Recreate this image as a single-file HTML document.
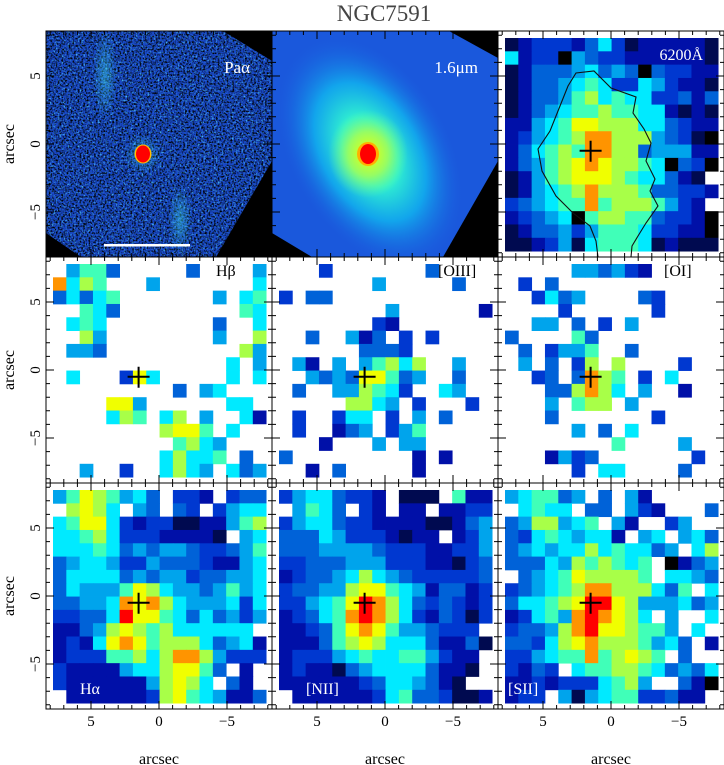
<!DOCTYPE html>
<html><head><meta charset="utf-8">
<style>
body{margin:0;background:#fff;width:724px;height:765px;overflow:hidden;font-family:"Liberation Serif",serif}
svg{display:block}
</style></head>
<body>
<svg id="fig" width="724" height="765" viewBox="0 0 724 765" xmlns="http://www.w3.org/2000/svg">
<defs>
<filter id="noiseK" x="0" y="0" width="100%" height="100%">
<feTurbulence type="fractalNoise" baseFrequency="0.55" numOctaves="2" seed="3"/>
<feColorMatrix type="matrix" values="0 0 0 0 0  0 0 0 0 0  0 0 0 0 0  3.2 0 0 0 -1.4"/>
</filter>
<filter id="noiseC" x="0" y="0" width="100%" height="100%">
<feTurbulence type="fractalNoise" baseFrequency="0.5" numOctaves="2" seed="11"/>
<feColorMatrix type="matrix" values="0 0 0 0 0.1  0 0 0 0 0.75  0 0 0 0 1  0 2.6 0 0 -1.4"/>
</filter>
<radialGradient id="nirG" cx="0.5" cy="0.5" r="0.5">
<stop offset="0" stop-color="#80ff80"/>
<stop offset="0.3" stop-color="#30f0d0"/>
<stop offset="0.6" stop-color="#10b8f0" stop-opacity="0.8"/>
<stop offset="1" stop-color="#1a5ce0" stop-opacity="0"/>
</radialGradient>
<radialGradient id="coreG" cx="0.5" cy="0.5" r="0.5">
<stop offset="0" stop-color="#f0ff00"/>
<stop offset="0.5" stop-color="#a8ff50" stop-opacity="0.8"/>
<stop offset="1" stop-color="#60ffa0" stop-opacity="0"/>
</radialGradient>
<radialGradient id="paG" cx="0.5" cy="0.5" r="0.5">
<stop offset="0" stop-color="#40e0f0" stop-opacity="0.45"/>
<stop offset="1" stop-color="#40e0f0" stop-opacity="0"/>
</radialGradient>
<clipPath id="clipPa"><polygon points="46,31 223,31 272,61 272,161 216,257 81,257 46,233"/></clipPath>
<clipPath id="clipNir"><polygon points="272,31 449,31 498,58 498,161 443,257 312,257 272,233"/></clipPath>
</defs>
<text x="384" y="21" text-anchor="middle" font-size="23" fill="#444">NGC7591</text>
<g id="panels"></g>
<g id="axes"></g>
</svg>
<script>
// colour index -> colour
const levels = "k0123456789A";
const palette = ["#000000","#000a50","#0010a8","#0038d0","#0062d8","#00a4ec","#00eaff","#40ffb8","#a8ff48","#f0ff00","#ff9400","#ff0000"];

// panel data: one string per row, '.' = blank
const cont6200 = [
"0122213520111110","5122k43221111110","0133345343k32211","0133456522542110",
"0133467565522313","0134566766551010","1145688777553211","124567997774320k",
"1356769977344411","134678987765k32k","014678887655310.","0145679777633221",
"234566967776421.","12345k677663221k","013342466652211k","0012405666501000"];
const hbeta = [
".4663.....3....4","9576...4.......5","35356.......4.56","..653.........65",
".565........3..5","..74........4..7",".443..........74",".............5.4",
".5...285.....5.5",".........3.45...","....884......55.","....576.57.4..51",
"........7886.5..",".........6754...","........57556.3.","..4..2..5754.534"];
const oiii = [
"...2.......3....",".......4.....3..","2.33............","........4......1",
".......21.......","..3..413.2.2....","......3332......",".41.4.46757..4..",
"..434388634..3..",".3..447652..54..",".....7754.2...2.",".2..255.2.4.3...",
".2..134.246.....","...1...4.44.....","3.........1.1...","..1.3.....1....."];
const oi = [
".....443421.....",".2.3............","..2534....32....","....2......2....",
"..44.3.2.4......","3....63.........",".3.2446..3......",".4.3.27.7....2..",
"..23.3976.2.5...","...337975.4..1..","...4.677.4......","...3.......2....",
".....4.3.5......","........6....4..","...1423.......2.",".....2.55....3.."];
const halpha = [
"46876453.221.233",".7875.43.32.2455","5688521220011467","5567522211110.45",
"5556534344322346","3455422433321145","3555534344233445","3544468754434645",
"3344598975444525","22335A8865353424","113478767555555.","1215898677753451",
"1222667579974222","2111145578863 1.".replace(" ","."),"211111147875 31.".replace(" ","."),".111111278654113"];
const nii = [
"24553221.000.611",".4653.21.11.1122","2455322111100134","333542221011.124",
"3334444322211224","2233344422211023","1233457543222223","2334478865413312",
"224568A975323212","123569A975213202","112368986443222.","1113678755531130",
"122245655664211.","121103455553110.","11111123554310..",".111111256332001"];
const sii = [
"45663 4.3.41.....".replace(" ","").slice(0,16),".5655.33.421...3","3477456.41..24..","325654551.45.453",
"3454557565534.57","33354767656.k134",".3456877776.5543","23456799777536.5",
"355678AA87444534","125649A9875.4..5","233479A887664.5.","33257897776453.1",
"224566967876 3..".replace(" ","."),"2132.56677653435","11212225674..31k","122.40456622311."];

const panelLeft = [46,272,498];
const panelTop = [31,257,483];
const PW = 226, CELL = 13.32, OFF = 7;
const pxPerArcsec = 13.6;
const crossRA = 1.5, crossDec = -0.5;   // cross position (arcsec)

const NS = "http://www.w3.org/2000/svg";
const gP = document.getElementById("panels");
const gA = document.getElementById("axes");
function mk(tag, attrs, parent){
  const e = document.createElementNS(NS, tag);
  for (const k in attrs) e.setAttribute(k, attrs[k]);
  parent.appendChild(e); return e;
}
function xs(col, a){ return panelLeft[col] + PW/2 - a*pxPerArcsec; }
function ys(row, d){ return panelTop[row] + PW/2 - d*pxPerArcsec; }

// ---------- image panels (Pa alpha, 1.6um) ----------
(function(){
  const bg1 = mk("rect",{x:46,y:31,width:226,height:226,fill:"#000"},gP);
  
  
  const pa = mk("g",{"clip-path":"url(#clipPa)"},gP);
  
  
  mk("rect",{x:46,y:31,width:226,height:226,fill:"#1848c8"},pa);
  mk("rect",{x:46,y:31,width:226,height:226,filter:"url(#noiseC)"},pa);
  mk("rect",{x:46,y:31,width:226,height:226,filter:"url(#noiseK)"},pa);
  mk("ellipse",{cx:105,cy:75,rx:12,ry:45,fill:"url(#paG)"},pa);
  mk("ellipse",{cx:180,cy:220,rx:12,ry:35,fill:"url(#paG)"},pa);
  mk("ellipse",{cx:143,cy:154,rx:18,ry:20,fill:"url(#paG)"},pa);
  mk("ellipse",{cx:143,cy:154,rx:8.5,ry:9.5,fill:"#ffc000"},pa);
  mk("ellipse",{cx:143,cy:154,rx:7,ry:8.5,fill:"#ff0000"},pa);
  const bar = mk("rect",{x:104,y:244,width:86,height:2.5,fill:"#fff"},gP);
  
  

  const bg2 = mk("rect",{x:272,y:31,width:226,height:226,fill:"#000"},gP);
  
  
  const nir = mk("g",{"clip-path":"url(#clipNir)"},gP);
  
  
  mk("rect",{x:272,y:31,width:226,height:226,fill:"#1a58dc"},nir);
  mk("ellipse",{cx:370,cy:152,rx:80,ry:125,fill:"url(#nirG)",transform:"rotate(-30 370 152)"},nir);
  mk("ellipse",{cx:368,cy:154,rx:40,ry:44,fill:"url(#coreG)"},nir);
  mk("ellipse",{cx:368,cy:154,rx:11,ry:12,fill:"#ffb000"},nir);
  mk("ellipse",{cx:368,cy:154,rx:8,ry:10,fill:"#ff0000"},nir);
})();

// ---------- IFU maps ----------
const maps = [
 {row:0,col:2,data:cont6200,name:"continuum-6200-map",label:"6200Å",lx:703,ly:60,lc:"#fff",anchor:"end"},
 {row:1,col:0,data:hbeta,name:"hbeta-map",label:"Hβ",lx:216,ly:276,lc:"#000",anchor:"start"},
 {row:1,col:1,data:oiii,name:"oiii-map",label:"[OIII]",lx:438,ly:276,lc:"#000",anchor:"start"},
 {row:1,col:2,data:oi,name:"oi-map",label:"[OI]",lx:664,ly:276,lc:"#000",anchor:"start"},
 {row:2,col:0,data:halpha,name:"halpha-map",label:"Hα",lx:80,ly:694,lc:"#fff",anchor:"start"},
 {row:2,col:1,data:nii,name:"nii-map",label:"[NII]",lx:306,ly:694,lc:"#fff",anchor:"start"},
 {row:2,col:2,data:sii,name:"sii-map",label:"[SII]",lx:508,ly:694,lc:"#fff",anchor:"start"}
];
maps.forEach(m=>{
  const g = mk("g",{},gP);
  
  
  const px = panelLeft[m.col], py = panelTop[m.row];
  m.data.forEach((rowStr, j)=>{
    for (let i=0;i<16;i++){
      const ch = rowStr[i];
      if (!ch || ch==='.') continue;
      const idx = levels.indexOf(ch);
      if (idx<0) continue;
      const r = mk("rect",{x:(px+OFF+i*CELL).toFixed(2),y:(py+OFF+j*CELL).toFixed(2),width:CELL+0.4,height:CELL+0.4,fill:palette[idx]},g);
      
      
    }
  });
});

// contour on 6200 map
(function(){
  const ox=498, oy=31;
  const pts=[[100,226],[98,210],[92,195],[75,182],[58,165],[44,140],[40,118],[52,100],[62,75],[70,55],[78,42],[96,40],[113,57],[138,66],[135,82],[146,98],[153,112],[148,130],[157,148],[152,160],[160,175],[148,192],[140,205],[134,215],[133,226]];
  const c = mk("polyline",{points:pts.map(p=>(ox+p[0])+","+(oy+p[1])).join(" "),fill:"none",stroke:"#111",'stroke-width':1.1},gP);
  
  
})();

// labels & crosses
maps.forEach(m=>{
  const t = mk("text",{x:m.lx,y:m.ly,fill:m.lc,'font-size':16,'text-anchor':m.anchor,'font-family':'"Liberation Serif", serif'},gP);
  t.textContent = m.label;
  
  
  const cx = xs(m.col, crossRA), cy = ys(m.row, crossDec);
  const cr = mk("path",{d:`M${cx-11},${cy}H${cx+11}M${cx},${cy-10}V${cy+11}`,stroke:"#000",'stroke-width':2,fill:"none"},gP);
  
  
});
[["Paα",250,73,"pa-alpha-label"],["1.6μm",478,73,"nir-label"]].forEach(a=>{
  const t = mk("text",{x:a[1],y:a[2],fill:"#fff",'font-size':17,'text-anchor':"end"},gP);
  t.textContent=a[0];
  
  
});

// ---------- frames, ticks, tick labels ----------
const tickVals = [-8,-7,-6,-5,-4,-3,-2,-1,0,1,2,3,4,5,6,7,8];
const xLabelVals = [5,0,-5];
const xLabelText = ["5","0","−5"];
const yLabelVals = [5,0,-5];
const yLabelText = ["5","0","−5"];
for (let r=0;r<3;r++) for (let c=0;c<3;c++){
  const px=panelLeft[c], py=panelTop[r];
  const f = mk("rect",{x:px,y:py,width:PW,height:PW,fill:"none",stroke:"#000",'stroke-width':1},gA);
  
  
  let d="";
  tickVals.forEach(v=>{
    const L = (v%5===0)?8:4;
    const x = xs(c,v), y = ys(r,v);
    d += `M${x},${py}v${L}M${x},${py+PW}v${-L}M${px},${y}h${L}M${px+PW},${y}h${-L}`;
  });
  const tk = mk("path",{d:d,stroke:"#000",'stroke-width':1,fill:"none"},gA);
  
  
}
for (let c=0;c<3;c++){
  xLabelVals.forEach((v,k)=>{
    const t = mk("text",{x:xs(c,v),y:726,'text-anchor':"middle",'font-size':15},gA);
    t.textContent = xLabelText[k];
    
    
  });
  const xt = mk("text",{x:panelLeft[c]+PW/2,y:764,'text-anchor':"middle",'font-size':16},gA);
  xt.textContent="arcsec";
  
  
}
for (let r=0;r<3;r++){
  yLabelVals.forEach((v,k)=>{
    const y = ys(r,v);
    const t = mk("text",{x:40,y:y,'text-anchor':"middle",'font-size':15,transform:`rotate(-90 40 ${y})`},gA);
    t.textContent = yLabelText[k];
    
    
  });
  const cy = panelTop[r]+PW/2;
  const yt = mk("text",{x:14,y:cy,'text-anchor':"middle",'font-size':16,transform:`rotate(-90 14 ${cy})`},gA);
  yt.textContent="arcsec";
  
  
}
</script>
</body></html>
